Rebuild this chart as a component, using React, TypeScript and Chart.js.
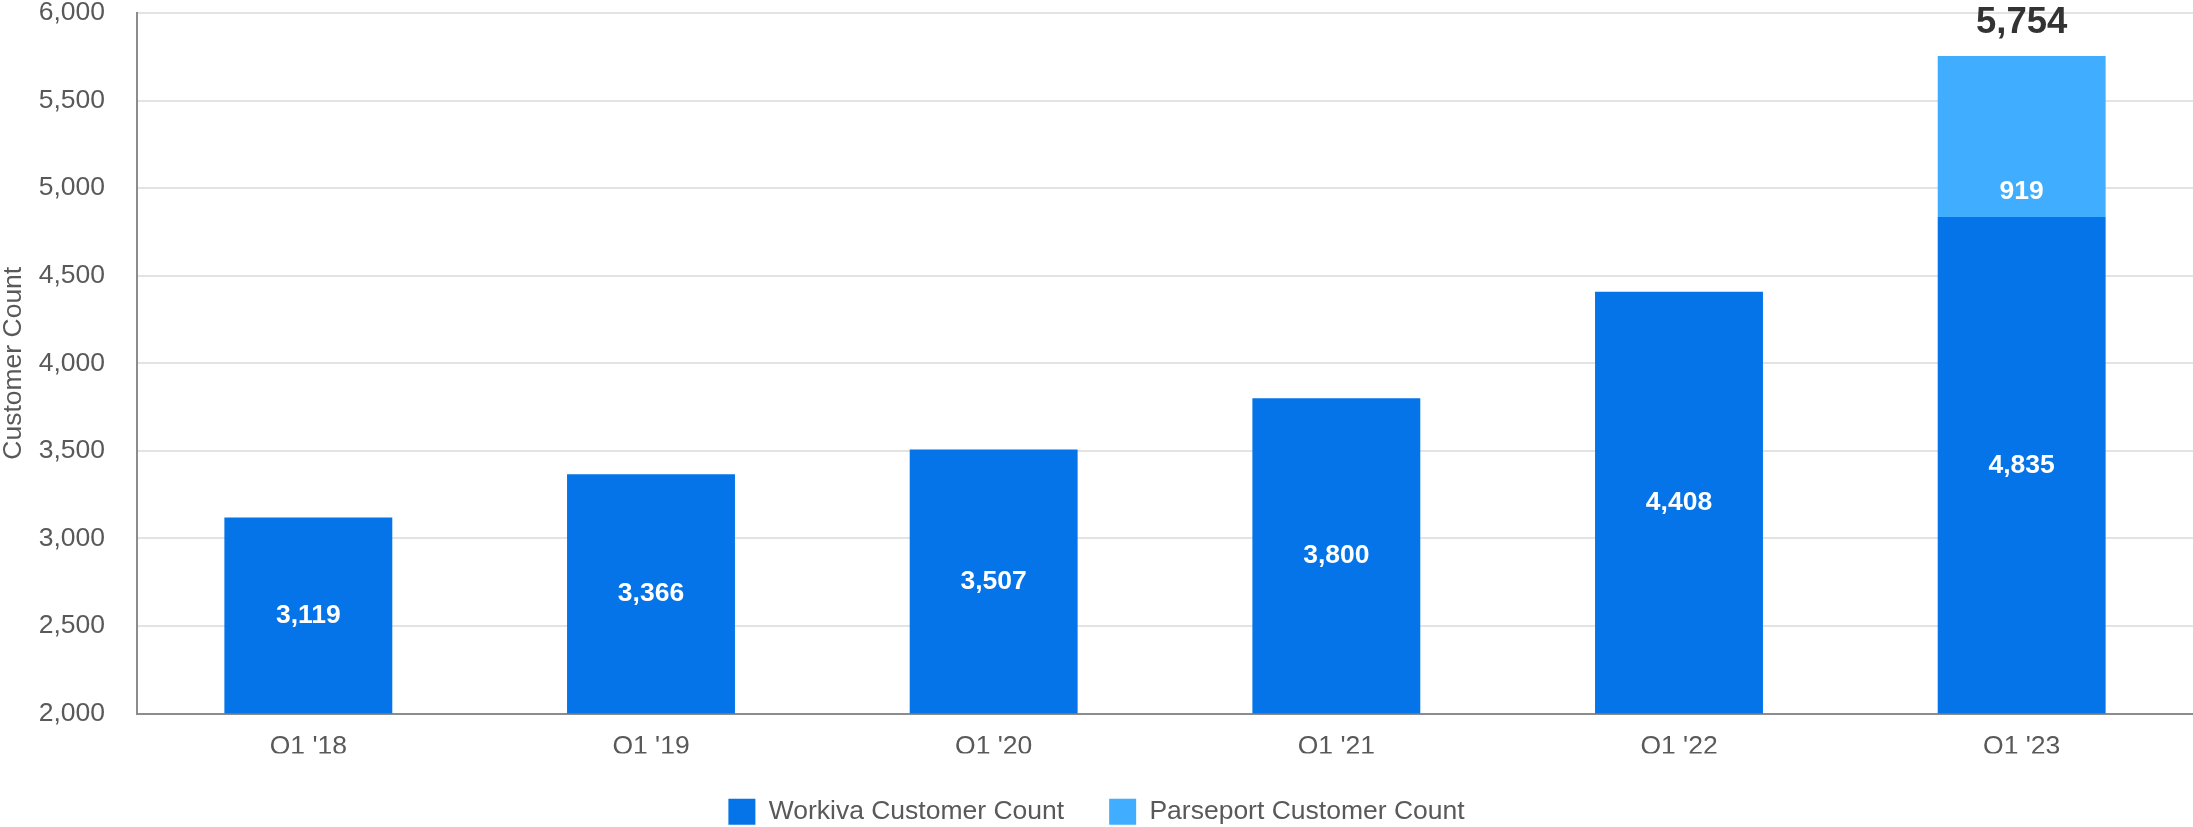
import React, { useEffect, useRef } from 'react';
import Chart from 'chart.js/auto';

const quarters = ["Q1 '18", "Q1 '19", "Q1 '20", "Q1 '21", "Q1 '22", "Q1 '23"];
const workivaCounts = [3119, 3366, 3507, 3800, 4408, 4835];
const parseportCounts: (number | null)[] = [null, null, null, null, null, 919];

const yTicksMin = 2000;
const yTicksMax = 6000;
const yTicksStep = 500;

const WORKIVA_BLUE = '#0474E8';
const PARSEPORT_BLUE = '#40ADFF';
const TEXT_GREY = '#595959';
const FONT = '"Liberation Sans", Arial, sans-serif';

const fmt = (v: number) => v.toLocaleString('en-US');

// draws the numbers inside the bars and the total over the stacked one
const barLabels = {
    id: 'barLabels',
    afterDatasetsDraw(chart: Chart) {
        const ctx = chart.ctx;
        const bottom = chart.chartArea.bottom;
        ctx.save();
        ctx.textAlign = 'center';
        ctx.textBaseline = 'middle';

        const workivaMeta = chart.getDatasetMeta(0);
        workivaMeta.data.forEach((bar, i) => {
            const { x, y, base } = bar.getProps(['x', 'y', 'base'], true) as any;
            ctx.fillStyle = '#ffffff';
            ctx.font = `bold 26.5px ${FONT}`;
            ctx.fillText(fmt(workivaCounts[i]), x, (y + Math.min(base, bottom)) / 2);
        });

        const parseportMeta = chart.getDatasetMeta(1);
        parseportMeta.data.forEach((bar, i) => {
            const v = parseportCounts[i];
            if (v == null) return;
            const { x, y, base } = bar.getProps(['x', 'y', 'base'], true) as any;
            ctx.fillStyle = '#ffffff';
            ctx.font = `bold 26.5px ${FONT}`;
            ctx.fillText(fmt(v), x, base - 25);

            ctx.fillStyle = '#333333';
            ctx.font = `bold 36.5px ${FONT}`;
            ctx.fillText(fmt(workivaCounts[i] + v), x, y - 33);
        });
        ctx.restore();
    }
};

const CustomerCountChart: React.FC = () => {
    const chartRef = useRef<HTMLCanvasElement>(null);
    const chartInstance = useRef<Chart | null>(null);

    useEffect(() => {
        if (!chartRef.current) return;
        document.body.style.margin = '0';

        if (chartInstance.current) {
            chartInstance.current.destroy();
        }

        Chart.defaults.font.family = FONT;
        Chart.defaults.color = TEXT_GREY;

        chartInstance.current = new Chart(chartRef.current, {
            type: 'bar',
            data: {
                labels: quarters,
                datasets: [
                    {
                        label: 'Workiva Customer Count',
                        data: workivaCounts,
                        backgroundColor: WORKIVA_BLUE,
                        categoryPercentage: 1,
                        barPercentage: 0.49,
                    },
                    {
                        label: 'Parseport Customer Count',
                        data: parseportCounts,
                        backgroundColor: PARSEPORT_BLUE,
                        categoryPercentage: 1,
                        barPercentage: 0.49,
                    }
                ]
            },
            options: {
                responsive: true,
                maintainAspectRatio: false,
                animation: false,
                layout: { padding: { top: 0, right: 0, bottom: -8, left: 0 } },
                scales: {
                    x: {
                        stacked: true,
                        grid: { display: false, drawTicks: false },
                        border: { display: true, color: '#8c8c8c', width: 2 },
                        ticks: {
                            padding: 17,
                            color: TEXT_GREY,
                            font: { size: 26.5, lineHeight: 1.2 }
                        },
                        afterFit: (scale: any) => {
                            scale.height = 40;
                        }
                    },
                    y: {
                        stacked: true,
                        min: yTicksMin,
                        max: yTicksMax,
                        grid: { color: '#e3e3e3', lineWidth: 2, drawTicks: false },
                        border: { display: true, color: '#8c8c8c', width: 2 },
                        ticks: {
                            stepSize: yTicksStep,
                            padding: 32,
                            color: TEXT_GREY,
                            font: { size: 26.5, lineHeight: 1 },
                            callback: (v) => fmt(Number(v))
                        },
                        title: {
                            display: true,
                            text: 'Customer Count',
                            color: TEXT_GREY,
                            font: { size: 26.5, lineHeight: 1 },
                            padding: { top: 0, bottom: 0 }
                        },
                        afterFit: (scale: any) => {
                            scale.width = 137;
                            scale.paddingTop = 13;
                            scale.paddingBottom = 12;
                        }
                    }
                },
                plugins: {
                    legend: {
                        position: 'bottom',
                        labels: {
                            boxWidth: 27,
                            boxHeight: 26,
                            padding: 45,
                            color: TEXT_GREY,
                            font: { size: 26.5 }
                        }
                    },
                    tooltip: { enabled: false }
                }
            },
            plugins: [barLabels]
        });

        return () => {
            if (chartInstance.current) {
                chartInstance.current.destroy();
                chartInstance.current = null;
            }
        };
    }, []);

    return (
        <div style={{ width: 2193, height: 827, position: 'relative' }}>
            <canvas ref={chartRef} id="customerCountChart"></canvas>
        </div>
    );
};

export default function App() {
    return <CustomerCountChart />;
}
